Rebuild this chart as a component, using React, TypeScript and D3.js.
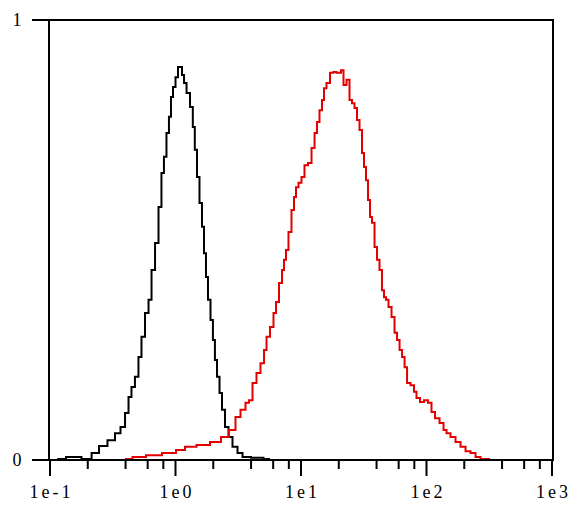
import React from "react";
import * as d3 from "d3";

// Control (black) histogram: fluorescence intensity and normalized count
const controlX = [0.114, 0.158, 0.201, 0.229, 0.264, 0.312, 0.348, 0.382, 0.411, 0.434, 0.458, 0.493, 0.521, 0.551, 0.593, 0.627, 0.662, 0.713, 0.752, 0.794, 0.824, 0.871, 0.903, 0.938, 0.973, 1.028, 1.066, 1.106, 1.148, 1.191, 1.259, 1.353, 1.395, 1.456, 1.511, 1.596, 1.656, 1.718, 1.782, 1.849, 1.954, 2.02, 2.103, 2.182, 2.305, 2.39, 2.572, 2.718, 2.979, 3.266, 3.581, 4.458, 5.66];
const controlY = [0.002, 0.007, 0.002, 0.016, 0.032, 0.045, 0.061, 0.075, 0.107, 0.143, 0.166, 0.189, 0.234, 0.28, 0.334, 0.364, 0.432, 0.493, 0.575, 0.652, 0.689, 0.743, 0.78, 0.825, 0.848, 0.87, 0.893, 0.893, 0.875, 0.857, 0.834, 0.802, 0.757, 0.705, 0.643, 0.584, 0.53, 0.47, 0.416, 0.364, 0.318, 0.273, 0.227, 0.189, 0.152, 0.114, 0.075, 0.052, 0.03, 0.016, 0.007, 0.005, 0.002];

// Stained sample (red) histogram
const sampleX = [0.396, 0.521, 0.65, 0.938, 1.086, 1.306, 1.656, 2.142, 2.478, 2.871, 3.148, 3.451, 3.784, 3.926, 4.3, 4.54, 4.98, 5.17, 5.46, 5.87, 6.21, 6.44, 6.93, 7.19, 7.46, 7.73, 8.17, 8.63, 8.96, 9.29, 9.82, 10.37, 10.96, 11.8, 12.47, 13.18, 13.66, 14.43, 14.97, 15.53, 16.41, 17.66, 18.66, 19.72, 20.46, 21.22, 22.42, 23.71, 25.02, 25.96, 27.42, 28.47, 30.07, 31.19, 32.36, 33.57, 34.83, 36.13, 37.49, 39.62, 41.09, 43.37, 45.0, 46.69, 48.44, 51.2, 54.11, 57.19, 59.33, 62.7, 65.05, 68.75, 71.32, 78.03, 80.95, 85.55, 92.04, 99.1, 106.6, 112.7, 121.3, 133.0, 140.4, 148.4, 162.6, 178.3, 195.5, 214.3, 234.9, 257.2, 282.0, 351.6];
const sampleY = [0.002, 0.007, 0.011, 0.016, 0.023, 0.03, 0.034, 0.041, 0.052, 0.068, 0.098, 0.114, 0.13, 0.136, 0.175, 0.198, 0.22, 0.25, 0.28, 0.302, 0.334, 0.359, 0.402, 0.432, 0.455, 0.477, 0.518, 0.568, 0.598, 0.62, 0.63, 0.643, 0.67, 0.675, 0.709, 0.743, 0.768, 0.795, 0.818, 0.845, 0.857, 0.88, 0.882, 0.88, 0.88, 0.886, 0.852, 0.864, 0.818, 0.811, 0.8, 0.773, 0.75, 0.698, 0.666, 0.636, 0.591, 0.552, 0.539, 0.484, 0.455, 0.432, 0.386, 0.37, 0.364, 0.348, 0.325, 0.289, 0.273, 0.25, 0.234, 0.211, 0.175, 0.17, 0.155, 0.141, 0.132, 0.136, 0.13, 0.109, 0.095, 0.084, 0.068, 0.061, 0.052, 0.041, 0.03, 0.02, 0.016, 0.007, 0.002, 0.0];

const xDecades = [0.1, 1, 10, 100, 1000];
const xTickLabels = ["1e-1", "1e0", "1e1", "1e2", "1e3"];
const minorMultipliers = [2, 4, 6, 8];
const yTicks = [0, 1];
const yTickLabels = ["0", "1"];

const W = 584;
const H = 526;

export default function App() {
  const x = d3.scaleLog().domain([0.1, 1000]).range([50, 552]);
  const y = d3.scaleLinear().domain([0, 1]).range([460, 20]);

  const line = d3
    .line<[number, number]>()
    .x((d) => x(d[0]))
    .y((d) => y(d[1]))
    .curve(d3.curveStep);

  const control: [number, number][] = controlX.map((v, i) => [v, controlY[i]]);
  const sample: [number, number][] = sampleX.map((v, i) => [v, sampleY[i]]);

  const minors: number[] = [];
  xDecades.slice(0, -1).forEach((d) => minorMultipliers.forEach((m) => minors.push(d * m)));

  const left = 49;
  const right = 553;
  const top = y(1);
  const bottom = y(0);

  return (
    <div style={{ position: "absolute", left: 0, top: 0 }}>
      <svg width={W} height={H} style={{ display: "block", background: "#fff" }}>
        <path d={line(control) || ""} fill="none" stroke="#000" strokeWidth={2} />
        <path d={line(sample) || ""} fill="none" stroke="#e40000" strokeWidth={2} />
        {/* frame */}
        <line x1={left} x2={left} y1={top - 1} y2={bottom + 1} stroke="#000" strokeWidth={2} />
        <line x1={left} x2={right + 1} y1={top} y2={top} stroke="#000" strokeWidth={2} />
        <line x1={right} x2={right} y1={top} y2={bottom + 1} stroke="#000" strokeWidth={2} />
        <line x1={left} x2={right + 1} y1={bottom} y2={bottom} stroke="#000" strokeWidth={2} />
        {/* y ticks */}
        {yTicks.map((t, i) => (
          <g key={"y" + t}>
            <line x1={32} x2={left} y1={y(t)} y2={y(t)} stroke="#000" strokeWidth={2} />
            <text
              x={17}
              y={y(t)}
              dy="0.35em"
              textAnchor="middle"
              fontFamily="'Liberation Serif', 'DejaVu Serif', serif"
              fontSize={18}
              fill="#000"
            >
              {yTickLabels[i]}
            </text>
          </g>
        ))}
        {/* x ticks */}
        {minors.map((m) => (
          <line key={"m" + m} x1={x(m)} x2={x(m)} y1={bottom} y2={bottom + 9} stroke="#000" strokeWidth={2} />
        ))}
        {xDecades.map((d, i) => (
          <g key={"d" + d}>
            <line x1={x(d)} x2={x(d)} y1={bottom} y2={bottom + 16} stroke="#000" strokeWidth={2} />
            <text
              x={x(d) + 1.5}
              y={498}
              textAnchor="middle"
              fontFamily="'Liberation Serif', 'DejaVu Serif', serif"
              fontSize={18}
              letterSpacing={3}
              fill="#000"
            >
              {xTickLabels[i]}
            </text>
          </g>
        ))}
      </svg>
    </div>
  );
}
